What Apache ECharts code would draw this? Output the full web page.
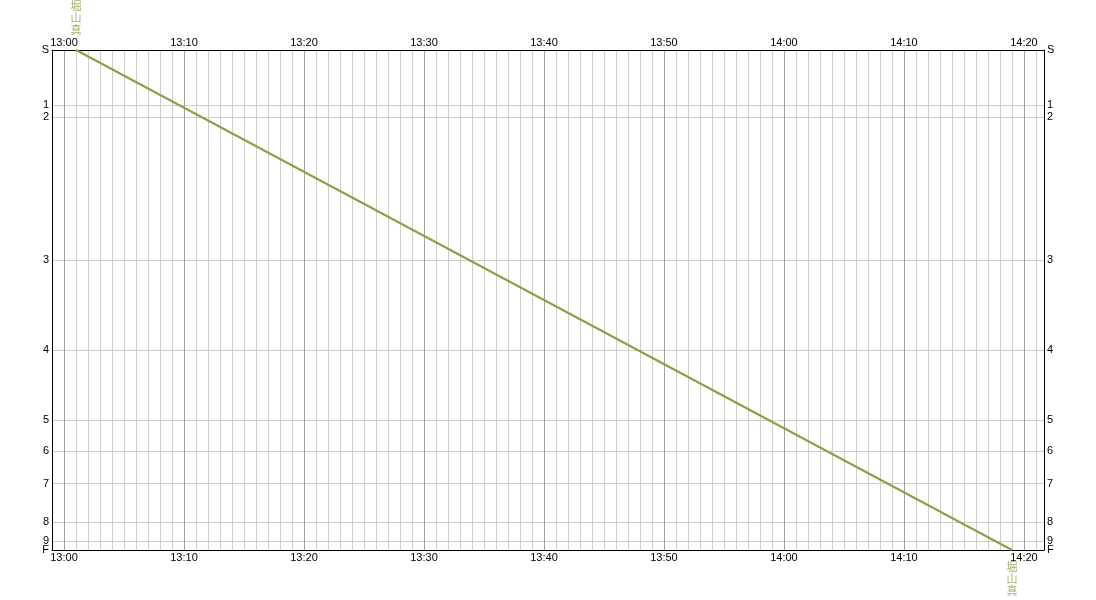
<!DOCTYPE html>
<html>
<head>
<meta charset="utf-8">
<script src="https://cdn.jsdelivr.net/npm/echarts@6/dist/echarts.min.js"></script>
<style>
  html, body { margin: 0; padding: 0; background: #fff; }
  #chart { width: 1096px; height: 600px; }
</style>
</head>
<body>
<div id="chart"></div>
<script>
// 駅名と起点からの距離
var stationNames = ['S', '1', '2', '3', '4', '5', '6', '7', '8', '9', 'F']
var stationDist = [0, 55.3, 67.3, 210.3, 300.3, 370.3, 401.3, 433.7, 472.3, 491.3, 500]
// 時刻（分、0時起点）
var timeMin = 779
var timeMax = 861.67
var trainName = '堀山真'
// 列車の通過時刻 [分, 距離]
var trainTimes = [781, 859]
var trainDist = [0, 500]

var trainColor = '#8b9f45'
var labelFont = 'Liberation Sans'

function fmtTime (v) {
  var m = Math.round(v)
  if (m % 10 !== 0 || Math.abs(v - m) > 0.01) return ''
  var h = Math.floor(m / 60)
  var mm = m % 60
  return h + ':' + (mm < 10 ? '0' + mm : mm)
}

function stationLabel (v) {
  for (var i = 0; i < stationDist.length; i++) {
    if (Math.abs(stationDist[i] - v) < 0.01) return stationNames[i]
  }
  return ''
}

// 1分ごとの縦線：10分ごとに濃い色
var vColors = []
for (var k = 0; k < 10; k++) {
  vColors.push(k === 1 ? '#a0a0a0' : '#cdcdcd')
}

function makeXAxis (pos) {
  return {
    type: 'value',
    position: pos,
    min: timeMin,
    max: timeMax,
    interval: 1,
    axisLine: { show: true, onZero: false, lineStyle: { color: '#000', width: 1 } },
    axisTick: { show: false },
    axisLabel: {
      show: true,
      margin: 2,
      color: '#000',
      fontFamily: labelFont,
      fontSize: 11,
      showMinLabel: false,
      showMaxLabel: false,
      formatter: fmtTime
    },
    splitLine: {
      show: pos === 'bottom',
      lineStyle: { color: vColors, width: 1 }
    }
  }
}

// 終点ラベルは別の軸で描く（重なりで消されないように）
function makeYAxis (pos, labelValues, main) {
  return {
    type: 'value',
    position: pos,
    inverse: true,
    min: 0,
    max: 500,
    axisLine: { show: main, onZero: false, lineStyle: { color: '#000', width: 1 } },
    axisTick: { show: false, customValues: stationDist },
    axisLabel: {
      show: true,
      margin: 3,
      color: '#000',
      fontFamily: labelFont,
      fontSize: 11,
      showMinLabel: true,
      showMaxLabel: true,
      hideOverlap: false,
      customValues: labelValues,
      formatter: stationLabel
    },
    splitLine: {
      show: main && pos === 'left',
      lineStyle: { color: '#cdcdcd', width: 1 }
    }
  }
}

var firstStations = stationDist.slice(0, stationDist.length - 1)
var lastStation = stationDist.slice(stationDist.length - 1)

var trainData = []
for (var i = 0; i < trainTimes.length; i++) {
  trainData.push([trainTimes[i], trainDist[i]])
}

var nameLabel = {
  show: true,
  rotate: 0,
  color: trainColor,
  fontFamily: 'Noto Sans CJK JP',
  fontSize: 11,
  lineHeight: 12,
  formatter: trainName.split('').join('\n')
}

var option = {
  animation: false,
  backgroundColor: '#fff',
  grid: { left: 52, right: 52, top: 50, bottom: 50 },
  xAxis: [makeXAxis('bottom'), makeXAxis('top')],
  yAxis: [
    makeYAxis('left', firstStations, true),
    makeYAxis('right', firstStations, true),
    makeYAxis('left', lastStation, false),
    makeYAxis('right', lastStation, false)
  ],
  series: [{
    type: 'line',
    xAxisIndex: 0,
    yAxisIndex: 0,
    data: trainData,
    symbol: 'none',
    lineStyle: { color: trainColor, width: 2 }
  }, {
    type: 'scatter',
    xAxisIndex: 0,
    yAxisIndex: 0,
    symbolSize: 0,
    silent: true,
    data: [
      { value: trainData[0], label: Object.assign({}, nameLabel, { position: 'top', distance: 14 }) },
      { value: trainData[trainData.length - 1], label: Object.assign({}, nameLabel, { position: 'bottom', distance: 11 }) }
    ]
  }]
}

var myChart = echarts.init(document.getElementById('chart'))
myChart.setOption(option)
</script>
</body>
</html>
